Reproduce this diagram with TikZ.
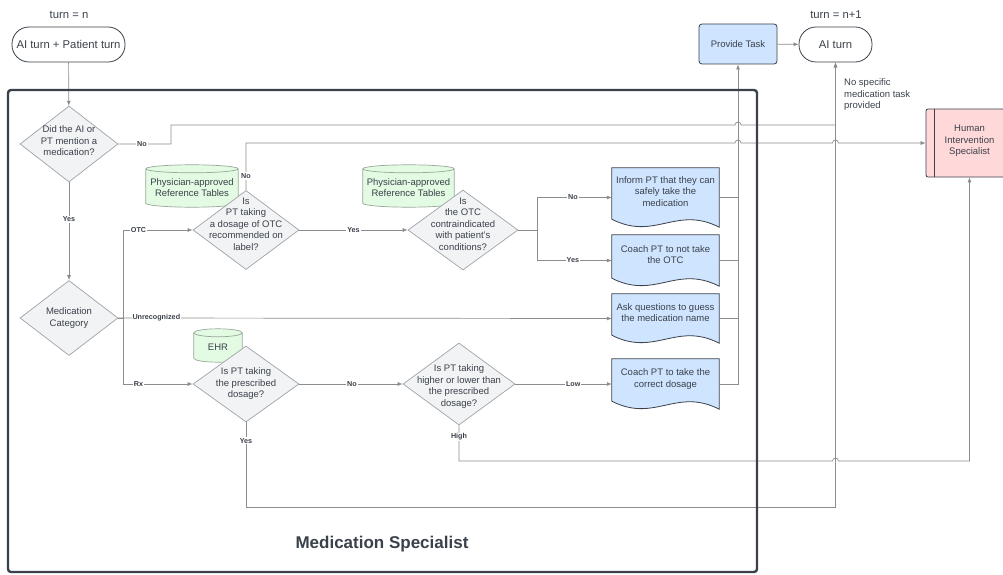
\documentclass[tikz,border=0pt]{standalone}
\usepackage{fontspec}
\setmainfont{Liberation Sans}
\usepackage{xcolor}
\usetikzlibrary{arrows.meta,calc,shapes.geometric}
\pgfdeclarelayer{background}
\pgfsetlayers{background,main}

\definecolor{txtdark}{HTML}{3A414A}
\definecolor{linegray}{HTML}{8C8C8C}
\definecolor{diafill}{HTML}{F2F3F5}
\definecolor{diaedge}{HTML}{9DA3AA}
\definecolor{cylfill}{HTML}{E3FAE3}
\definecolor{cyledge}{HTML}{9AA89A}
\definecolor{taskfill}{HTML}{CFE4FF}
\definecolor{hisfill}{HTML}{FFD9D9}

\newcommand{\flowtext}[2][0pt]{\smash{\raisebox{#1}{\makebox[0pt]{\begin{tabular}{@{}c@{}}#2\end{tabular}}}}}

\begin{document}
\begin{tikzpicture}[x=1pt,y=-1pt,>={Latex[length=5pt,width=4pt]},
  every node/.style={text=txtdark,font=\fontsize{9.5}{11.5}\selectfont},
  terminal/.style={draw=txtdark,line width=0.8pt,fill=white,rounded corners=17pt,
    minimum height=35pt,inner sep=0pt,font=\fontsize{11.3}{13}\selectfont},
  heading/.style={font=\fontsize{11.3}{13}\selectfont},
  decision/.style={diamond,draw=diaedge,fill=diafill,line width=0.7pt,inner sep=0pt},
  docbox/.style={inner sep=0pt,minimum width=107pt},
  store/.style={inner sep=0pt},
  taskbox/.style={draw=txtdark,line width=0.8pt,fill=taskfill,rounded corners=3pt,inner sep=0pt},
  lbl/.style={font=\bfseries\fontsize{7.2}{8}\selectfont,fill=white,inner sep=1pt},
  link/.style={draw=linegray,line width=0.7pt},
  hop/.style={insert path={arc[start angle=180,end angle=0,radius=3pt]}}]
  \useasboundingbox (0,0) rectangle (1003,575);

  \node[heading] (turnn) at (69,15) {turn = n};
  \node[heading] (turnn1) at (836,15) {turn = n+1};
  \node[terminal,minimum width=113pt] (start) at (68.5,44.5) {AI turn + Patient turn};
  \node[terminal,minimum width=73pt] (aiturn) at (835.5,44.5) {AI turn};
  \node[taskbox,minimum width=78pt,minimum height=40pt] (provide) at (738,44) {Provide Task};
  \node[anchor=west,align=left,inner sep=0pt] (nospec) at (844,95) {No specific\\medication task\\provided};
  \node[draw=txtdark,line width=0.8pt,fill=hisfill,rounded corners=2pt,minimum width=87pt,
    minimum height=68pt,inner sep=0pt] (his) at (969.5,143) {\flowtext{Human\\Intervention\\Specialist}};
  \draw[txtdark,line width=0.8pt] ([xshift=9pt]his.north west) -- ([xshift=9pt]his.south west);

  \node[store,minimum width=92pt,minimum height=42pt] (tables1) at (192,186) {\flowtext[-5pt]{Physician-approved\\Reference Tables}};
  \node[store,minimum width=91pt,minimum height=42pt] (tables2) at (408.5,186) {\flowtext[-5pt]{Physician-approved\\Reference Tables}};
  \node[store,minimum width=48pt,minimum height=33pt] (ehr) at (218,345.5) {\flowtext[-5pt]{EHR}};

  \node[decision,minimum width=98pt,minimum height=76pt] (did) at (69,144) {\flowtext[-0.4pt]{Did the AI or\\PT mention a\\medication?}};
  \node[decision,minimum width=98pt,minimum height=75pt] (category) at (69,318) {\flowtext[-2.4pt]{Medication\\Category}};
  \node[decision,minimum width=106pt,minimum height=79pt] (otcdose) at (246,230) {\flowtext[2.6pt]{Is\\PT taking\\a dosage of OTC\\recommended on\\label?}};
  \node[decision,minimum width=110pt,minimum height=80pt] (contra) at (463,230) {\flowtext[2.6pt]{Is\\the OTC\\contraindicated\\with patient's\\conditions?}};
  \node[decision,minimum width=106pt,minimum height=76pt] (rxdose) at (246,384) {\flowtext[-2.4pt]{Is PT taking\\the prescribed\\dosage?}};
  \node[decision,minimum width=112pt,minimum height=82pt] (highlow) at (459,384) {\flowtext[-5pt]{Is PT taking\\higher or lower than\\the prescribed\\dosage?}};

  \node[docbox,minimum height=59pt] (inform) at (665.5,197.5) {\flowtext[2.6pt]{Inform PT that they can\\safely take the\\medication}};
  \node[docbox,minimum height=51pt] (coachotc) at (665.5,260.5) {\flowtext[2.6pt]{Coach PT to not take\\the OTC}};
  \node[docbox,minimum height=49pt] (askname) at (665.5,318.5) {\flowtext[2.6pt]{Ask questions to guess\\the medication name}};
  \node[docbox,minimum height=50pt] (coachdose) at (665.5,384) {\flowtext[2.6pt]{Coach PT to take the\\correct dosage}};

  \begin{pgfonlayer}{background}
    \foreach \b in {tables1,tables2,ehr}
      \draw[draw=cyledge,fill=cylfill,line width=0.7pt]
        let \p1=(\b.south west), \p2=(\b.north east), \n1={(\x2-\x1)/2} in
        (\x1,\y2-4pt) -- (\x1,\y1+4pt) arc[start angle=180,end angle=360,x radius=\n1,y radius=4pt]
        -- (\x2,\y2-4pt) arc[start angle=0,end angle=180,x radius=\n1,y radius=4pt] -- cycle
        (\x1,\y2-4pt) arc[start angle=180,end angle=360,x radius=\n1,y radius=4pt];
    \foreach \b in {inform,coachotc,askname,coachdose}
      \draw[draw=txtdark,fill=taskfill,line width=0.8pt]
        let \p1=(\b.south west), \p2=(\b.north east), \n1={\x2-\x1} in
        (\x1,\y1+8pt) -- (\x1,\y2) -- (\x2,\y2) -- (\x2,\y1)
        .. controls (\x1+0.6*\n1,\y1+22pt) and (\x1+0.4*\n1,\y1-14pt) .. (\x1,\y1+8pt) -- cycle;
  \end{pgfonlayer}

  \draw[link,->] (start) -- (did);
  \draw[link,->] (did.east) -- node[lbl,pos=0.45]{No} (171,144) |- (735,125) [hop] -| (aiturn.south);
  \draw[link,->] (did.south) -- node[lbl,pos=0.38]{Yes} (category.north);
  \draw[link,->] (category.east) -- ++(5,0) |- node[lbl,pos=0.61]{OTC} (otcdose.west);
  \draw[link,->] (category.east) -- node[lbl,pos=0.077]{Unrecognized} (askname.west);
  \draw[link,->] (category.east) -- ++(5,0) |- node[lbl,pos=0.61]{Rx} (rxdose.west);
  \draw[link,->] (otcdose.north) -- node[lbl,pos=0.3]{No} (246,143) -- (735,143) [hop] -- (832.5,143) [hop] -- (his.west);
  \draw[link,->] (otcdose.east) -- node[lbl]{Yes} (contra.west);
  \draw[link,->] (contra.east) -- (537,230) |- node[lbl,pos=0.74]{No} (inform.west);
  \draw[link,->] (contra.east) -- (537,230) |- node[lbl,pos=0.74]{Yes} (coachotc.west);
  \draw[link,->] (rxdose.east) -- node[lbl,pos=0.51]{No} (highlow.west);
  \draw[link,->] (rxdose.south) -- node[lbl,pos=0.22]{Yes} (246,507) -| (aiturn.south);
  \draw[link,->] (highlow.east) -- node[lbl,pos=0.6]{Low} (coachdose.west);
  \draw[link,->] (highlow.south) -- node[lbl,pos=0.33]{High} (459,461) -- (832.5,461) [hop] -| (his.south);
  \draw[link] (inform.east) -- (inform.east -| provide.south);
  \draw[link] (coachotc.east) -- (coachotc.east -| provide.south);
  \draw[link] (askname.east) -- (askname.east -| provide.south);
  \draw[link,->] (coachdose.east) -| (provide.south);
  \draw[link,->] (provide) -- (aiturn);

  \draw[txtdark,line width=2.4pt,rounded corners=3pt] (8,90) rectangle (757,572);
  \node[font=\bfseries\fontsize{17}{20}\selectfont] (title) at (382,544) {Medication Specialist};
\end{tikzpicture}
\end{document}
